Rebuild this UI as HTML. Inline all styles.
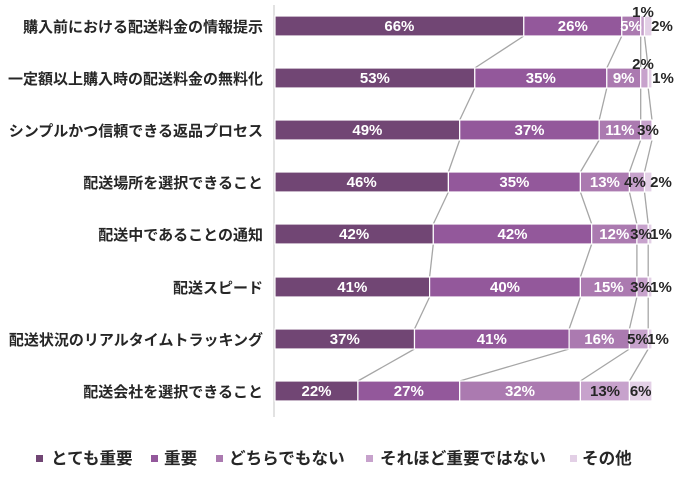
<!DOCTYPE html>
<html><head><meta charset="utf-8"><style>
html,body{margin:0;padding:0;background:#fff;}
svg{display:block;font-family:"Liberation Sans","Noto Sans CJK JP",sans-serif;font-weight:bold;}
.c{stroke:#a6a6a6;stroke-width:1.3}
.r rect{stroke:#fff;stroke-width:1.2}
.a{fill:#714674}.b{fill:#93589b}.d{fill:#ab7ab0}.e{fill:#c7a2cc}.f{fill:#e3d0e6}
.w{fill:#fff;font-size:15px;text-anchor:middle}
.k{fill:#262626;font-size:15px;text-anchor:middle}
.cat{fill:#262626;font-size:15px;text-anchor:end}
.lg{fill:#262626;font-size:16.6px}
</style></head><body>
<svg width="693" height="482" xmlns="http://www.w3.org/2000/svg">
<line x1="274" y1="5" x2="274" y2="417" stroke="#d9d9d9" stroke-width="1.5"/>
<g>
<line class="c" x1="523.8" y1="36" x2="474.8" y2="68"/><line class="c" x1="621.8" y1="36" x2="606.8" y2="68"/><line class="c" x1="640.7" y1="36" x2="640.7" y2="68"/><line class="c" x1="644.5" y1="36" x2="648.2" y2="68"/>
<line class="c" x1="474.8" y1="88" x2="459.7" y2="120"/><line class="c" x1="606.8" y1="88" x2="599.2" y2="120"/><line class="c" x1="640.7" y1="88" x2="640.7" y2="120"/><line class="c" x1="648.2" y1="88" x2="652" y2="120"/>
<line class="c" x1="459.7" y1="140" x2="448.4" y2="172"/><line class="c" x1="599.2" y1="140" x2="580.4" y2="172"/><line class="c" x1="640.7" y1="140" x2="629.4" y2="172"/><line class="c" x1="652" y1="140" x2="644.5" y2="172"/>
<line class="c" x1="448.4" y1="192" x2="433.3" y2="224"/><line class="c" x1="580.4" y1="192" x2="591.7" y2="224"/><line class="c" x1="629.4" y1="192" x2="636.9" y2="224"/><line class="c" x1="644.5" y1="192" x2="648.2" y2="224"/>
<line class="c" x1="433.3" y1="244" x2="429.6" y2="277"/><line class="c" x1="591.7" y1="244" x2="580.4" y2="277"/><line class="c" x1="636.9" y1="244" x2="636.9" y2="277"/><line class="c" x1="648.2" y1="244" x2="648.2" y2="277"/>
<line class="c" x1="429.6" y1="297" x2="414.5" y2="329"/><line class="c" x1="580.4" y1="297" x2="569.1" y2="329"/><line class="c" x1="636.9" y1="297" x2="629.4" y2="329"/><line class="c" x1="648.2" y1="297" x2="648.2" y2="329"/>
<line class="c" x1="414.5" y1="349" x2="357.9" y2="381"/><line class="c" x1="569.1" y1="349" x2="459.7" y2="381"/><line class="c" x1="629.4" y1="349" x2="580.4" y2="381"/><line class="c" x1="648.2" y1="349" x2="629.4" y2="381"/>
</g>
<g class="r">
<rect class="a" x="275" y="16" width="248.8" height="20"/><rect class="b" x="523.8" y="16" width="98" height="20"/><rect class="d" x="621.8" y="16" width="18.9" height="20"/><rect class="e" x="640.7" y="16" width="3.8" height="20"/><rect class="f" x="644.5" y="16" width="7.5" height="20"/>
<rect class="a" x="275" y="68" width="199.8" height="20"/><rect class="b" x="474.8" y="68" width="132" height="20"/><rect class="d" x="606.8" y="68" width="33.9" height="20"/><rect class="e" x="640.7" y="68" width="7.5" height="20"/><rect class="f" x="648.2" y="68" width="3.8" height="20"/>
<rect class="a" x="275" y="120" width="184.7" height="20"/><rect class="b" x="459.7" y="120" width="139.5" height="20"/><rect class="d" x="599.2" y="120" width="41.5" height="20"/><rect class="e" x="640.7" y="120" width="11.3" height="20"/>
<rect class="a" x="275" y="172" width="173.4" height="20"/><rect class="b" x="448.4" y="172" width="132" height="20"/><rect class="d" x="580.4" y="172" width="49" height="20"/><rect class="e" x="629.4" y="172" width="15.1" height="20"/><rect class="f" x="644.5" y="172" width="7.5" height="20"/>
<rect class="a" x="275" y="224" width="158.3" height="20"/><rect class="b" x="433.3" y="224" width="158.4" height="20"/><rect class="d" x="591.7" y="224" width="45.2" height="20"/><rect class="e" x="636.9" y="224" width="11.3" height="20"/><rect class="f" x="648.2" y="224" width="3.8" height="20"/>
<rect class="a" x="275" y="277" width="154.6" height="20"/><rect class="b" x="429.6" y="277" width="150.8" height="20"/><rect class="d" x="580.4" y="277" width="56.5" height="20"/><rect class="e" x="636.9" y="277" width="11.3" height="20"/><rect class="f" x="648.2" y="277" width="3.8" height="20"/>
<rect class="a" x="275" y="329" width="139.5" height="20"/><rect class="b" x="414.5" y="329" width="154.6" height="20"/><rect class="d" x="569.1" y="329" width="60.3" height="20"/><rect class="e" x="629.4" y="329" width="18.8" height="20"/><rect class="f" x="648.2" y="329" width="3.8" height="20"/>
<rect class="a" x="275" y="381" width="82.9" height="20"/><rect class="b" x="357.9" y="381" width="101.8" height="20"/><rect class="d" x="459.7" y="381" width="120.7" height="20"/><rect class="e" x="580.4" y="381" width="49" height="20"/><rect class="f" x="629.4" y="381" width="22.6" height="20"/>
</g>
<g>
<text class="cat" x="263" y="32">購入前における配送料金の情報提示</text>
<text class="cat" x="263" y="84">一定額以上購入時の配送料金の無料化</text>
<text class="cat" x="263" y="136">シンプルかつ信頼できる返品プロセス</text>
<text class="cat" x="263" y="188">配送場所を選択できること</text>
<text class="cat" x="263" y="240">配送中であることの通知</text>
<text class="cat" x="263" y="293">配送スピード</text>
<text class="cat" x="263" y="345">配送状況のリアルタイムトラッキング</text>
<text class="cat" x="263" y="397">配送会社を選択できること</text>
</g>
<g>
<text class="w" x="399.4" y="31">66%</text><text class="w" x="572.8" y="31">26%</text><text class="w" x="631" y="31">5%</text><text class="k" x="643" y="17">1%</text><text class="k" x="662" y="31">2%</text>
<text class="w" x="374.9" y="83">53%</text><text class="w" x="540.8" y="83">35%</text><text class="w" x="623.7" y="83">9%</text><text class="k" x="643" y="69">2%</text><text class="k" x="663" y="83">1%</text>
<text class="w" x="367.4" y="135">49%</text><text class="w" x="529.5" y="135">37%</text><text class="w" x="619.9" y="135">11%</text><text class="k" x="648" y="135">3%</text>
<text class="w" x="361.7" y="187">46%</text><text class="w" x="514.4" y="187">35%</text><text class="w" x="604.9" y="187">13%</text><text class="k" x="635" y="187">4%</text><text class="k" x="661" y="187">2%</text>
<text class="w" x="354.2" y="239">42%</text><text class="w" x="512.5" y="239">42%</text><text class="w" x="614.3" y="239">12%</text><text class="k" x="641" y="239">3%</text><text class="k" x="661" y="239">1%</text>
<text class="w" x="352.3" y="292">41%</text><text class="w" x="505" y="292">40%</text><text class="w" x="608.7" y="292">15%</text><text class="k" x="641" y="292">3%</text><text class="k" x="661" y="292">1%</text>
<text class="w" x="344.8" y="344">37%</text><text class="w" x="491.8" y="344">41%</text><text class="w" x="599.3" y="344">16%</text><text class="k" x="638" y="344">5%</text><text class="k" x="658" y="344">1%</text>
<text class="w" x="316.5" y="396">22%</text><text class="w" x="408.8" y="396">27%</text><text class="w" x="520" y="396">32%</text><text class="k" x="605" y="396">13%</text><text class="k" x="640.7" y="396">6%</text>
</g>
<g>
<rect class="a" x="36" y="455" width="7" height="7"/><text class="lg" x="51" y="464">とても重要</text>
<rect class="b" x="151" y="455" width="7" height="7"/><text class="lg" x="164" y="464">重要</text>
<rect class="d" x="216" y="455" width="7" height="7"/><text class="lg" x="229" y="464">どちらでもない</text>
<rect class="e" x="366" y="455" width="7" height="7"/><text class="lg" x="380" y="464">それほど重要ではない</text>
<rect class="f" x="570" y="455" width="7" height="7"/><text class="lg" x="582" y="464">その他</text>
</g>
</svg>
</body></html>
